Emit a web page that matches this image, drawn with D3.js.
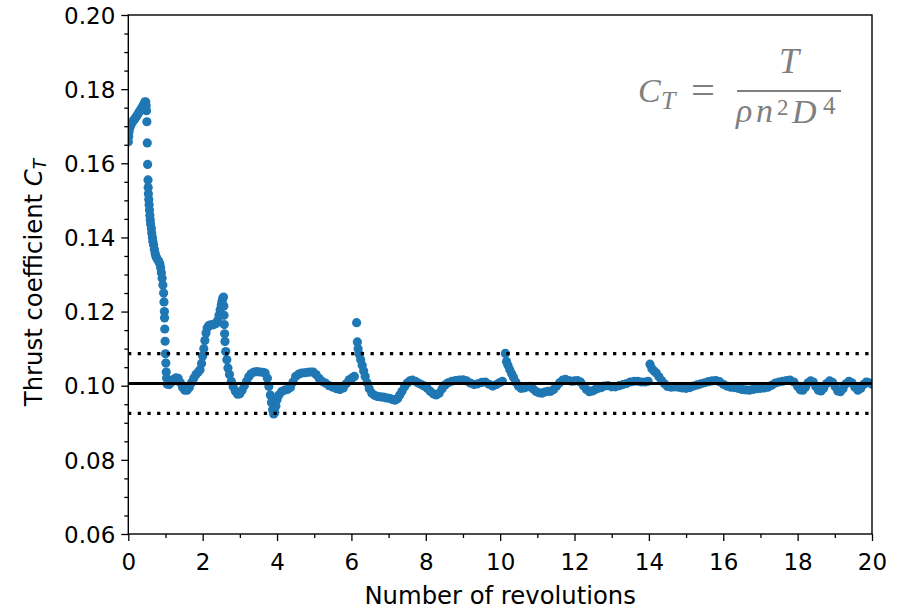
<!DOCTYPE html>
<html><head><meta charset="utf-8">
<script src="https://cdn.jsdelivr.net/npm/d3@7"></script>
<style>body{margin:0;background:#fff} svg{display:block}</style>
</head><body>
<script>
// ---- data: [revolution, C_T] ----
const ctSamples = [
[0.00,0.1658],[0.01,0.1672],[0.02,0.1685],[0.04,0.1695],[0.06,0.1702],[0.08,0.1706],[0.10,0.1710],
[0.13,0.1714],[0.16,0.1718],[0.19,0.1722],[0.22,0.1727],[0.25,0.1731],[0.28,0.1736],[0.31,0.1741],
[0.34,0.1746],[0.37,0.1751],[0.40,0.1756],[0.43,0.1762],[0.45,0.1766],[0.47,0.1765],[0.48,0.1755],
[0.49,0.1742],[0.50,0.1712],[0.51,0.1655],[0.52,0.1597],[0.53,0.1555],[0.535,0.1535],[0.54,0.1518],
[0.55,0.1502],[0.56,0.1488],[0.57,0.1474],[0.58,0.1460],[0.59,0.1448],[0.60,0.1436],[0.62,0.1424],
[0.63,0.1412],[0.65,0.1400],[0.66,0.1390],[0.68,0.1380],[0.70,0.1368],[0.72,0.1358],[0.74,0.1350],
[0.76,0.1345],[0.79,0.1340],[0.82,0.1335],[0.85,0.1328],[0.87,0.1318],[0.89,0.1305],[0.91,0.1290],
[0.93,0.1272],[0.95,0.1250],[0.96,0.1226],[0.97,0.1200],[0.975,0.1183],[0.98,0.1153],[0.99,0.1120],
[1.00,0.1086],[1.01,0.1061],[1.02,0.1037],[1.03,0.1021],[1.05,0.1004],
[1.10,0.1003],[1.16,0.1010],[1.22,0.1017],[1.28,0.1021],[1.34,0.1020],[1.40,0.1008],[1.46,0.0995],
[1.52,0.0988],[1.58,0.0988],[1.64,0.0995],[1.70,0.1008],[1.76,0.1020],[1.82,0.1030],[1.88,0.1037],
[1.93,0.1043],[1.97,0.1060],[2.00,0.1080],[2.03,0.1100],[2.06,0.1122],[2.09,0.1142],[2.12,0.1156],
[2.16,0.1162],[2.21,0.1164],[2.26,0.1164],[2.31,0.1166],[2.36,0.1168],[2.40,0.1175],[2.44,0.1190],
[2.47,0.1205],[2.50,0.1218],[2.52,0.1228],[2.54,0.1236],[2.56,0.1239],
[2.57,0.1215],[2.575,0.1190],[2.58,0.1165],[2.59,0.1140],[2.60,0.1119],[2.62,0.1092],[2.65,0.1070],
[2.68,0.1048],[2.72,0.1030],[2.77,0.1012],[2.82,0.0997],[2.88,0.0985],[2.94,0.0977],[3.00,0.0978],
[3.06,0.0988],[3.12,0.1000],[3.18,0.1012],[3.24,0.1024],[3.30,0.1032],[3.38,0.1037],[3.46,0.1038],
[3.54,0.1037],[3.62,0.1036],[3.68,0.1034],[3.74,0.1020],[3.78,0.0998],[3.82,0.0975],[3.85,0.0955],
[3.88,0.0935],[3.91,0.0924],[3.94,0.0928],[3.97,0.0945],[4.00,0.0962],[4.05,0.0975],[4.12,0.0984],
[4.20,0.0988],[4.28,0.0990],[4.36,0.0995],[4.43,0.1010],[4.50,0.1025],[4.58,0.1031],[4.66,0.1034],
[4.74,0.1035],[4.82,0.1036],[4.90,0.1037],[4.97,0.1037],[5.05,0.1030],[5.13,0.1020],[5.21,0.1012],
[5.30,0.1007],[5.40,0.1000],[5.50,0.0996],[5.60,0.0992],[5.69,0.0990],[5.78,0.0994],[5.86,0.1005],
[5.94,0.1016],[6.02,0.1021],[6.08,0.1025],
[6.14,0.1170],[6.16,0.1118],[6.18,0.1100],[6.21,0.1085],[6.25,0.1070],[6.29,0.1055],[6.33,0.1040],
[6.37,0.1025],[6.42,0.1008],[6.48,0.0992],[6.55,0.0980],[6.62,0.0974],[6.70,0.0971],[6.78,0.0970],
[6.86,0.0969],[6.94,0.0967],[7.02,0.0966],[7.10,0.0963],[7.17,0.0961],[7.24,0.0965],[7.30,0.0975],
[7.36,0.0985],[7.43,0.0997],[7.50,0.1007],[7.57,0.1013],[7.64,0.1015],[7.72,0.1012],[7.80,0.1007],
[7.88,0.1003],[7.96,0.0999],[8.04,0.0993],[8.12,0.0985],[8.20,0.0978],[8.28,0.0975],[8.36,0.0980],
[8.44,0.0992],[8.52,0.1002],[8.60,0.1008],[8.70,0.1012],[8.80,0.1014],[8.90,0.1015],[9.00,0.1016],
[9.10,0.1013],[9.20,0.1007],[9.30,0.1003],[9.40,0.1005],[9.50,0.1009],[9.60,0.1010],[9.70,0.1004],
[9.80,0.0999],[9.90,0.1003],[9.98,0.1008],[10.06,0.1012],
[10.14,0.1087],[10.17,0.1065],[10.21,0.1055],[10.26,0.1043],[10.31,0.1032],[10.36,0.1022],
[10.42,0.1010],[10.49,0.0999],[10.56,0.0993],[10.64,0.0994],[10.72,0.0997],[10.80,0.0998],
[10.88,0.0992],[10.96,0.0985],[11.04,0.0981],[11.12,0.0980],[11.20,0.0983],[11.28,0.0985],
[11.36,0.0985],[11.44,0.0990],[11.52,0.0999],[11.60,0.1008],[11.68,0.1015],[11.76,0.1017],
[11.84,0.1014],[11.92,0.1012],[12.00,0.1013],[12.08,0.1014],[12.16,0.1010],[12.24,0.1000],
[12.32,0.0990],[12.40,0.0984],[12.48,0.0986],[12.56,0.0990],[12.64,0.0993],[12.72,0.0995],
[12.80,0.0999],[12.90,0.1000],[13.00,0.0997],[13.10,0.0997],[13.20,0.1000],[13.30,0.1003],
[13.40,0.1006],[13.50,0.1010],[13.60,0.1012],[13.70,0.1012],[13.80,0.1010],[13.90,0.1010],
[13.98,0.1012],
[14.03,0.1058],[14.08,0.1046],[14.14,0.1040],[14.20,0.1034],[14.27,0.1024],[14.34,0.1014],
[14.42,0.1005],[14.50,0.0998],[14.60,0.0996],[14.70,0.0997],[14.80,0.0996],[14.90,0.0994],
[15.00,0.0993],[15.10,0.0995],[15.20,0.0999],[15.30,0.1002],[15.40,0.1005],[15.50,0.1008],
[15.60,0.1011],[15.70,0.1013],[15.80,0.1014],[15.90,0.1011],[16.00,0.1004],[16.10,0.0999],
[16.20,0.0996],[16.30,0.0995],[16.40,0.0993],[16.50,0.0990],[16.60,0.0989],[16.70,0.0988],
[16.80,0.0990],[16.90,0.0992],[17.00,0.0993],[17.10,0.0994],[17.20,0.0996],[17.30,0.1001],
[17.40,0.1007],[17.50,0.1010],[17.60,0.1012],[17.70,0.1014],[17.80,0.1015],[17.90,0.1010],
[18.00,0.0998],[18.07,0.0989],[18.14,0.0988],[18.21,0.0996],[18.28,0.1008],[18.35,0.1013],
[18.42,0.1010],[18.49,0.0998],[18.56,0.0988],[18.63,0.0986],[18.70,0.0993],[18.78,0.1006],
[18.86,0.1013],[18.94,0.1009],[19.01,0.0997],[19.08,0.0986],[19.15,0.0984],[19.22,0.0992],
[19.30,0.1005],[19.38,0.1012],[19.46,0.1008],[19.54,0.0996],[19.62,0.0988],[19.70,0.0993],
[19.78,0.1004],[19.85,0.1010],[19.92,0.1008],[20.00,0.1004]
];
const meanCt = 0.1006;          // solid reference line
const bandFraction = 0.08;      // dotted lines at ±8 %
const xTickValues = [0,2,4,6,8,10,12,14,16,18,20];
const xMinorTicks = [1,3,5,7,9,11,13,15,17,19];
const yTickValues = [0.06,0.08,0.10,0.12,0.14,0.16,0.18,0.20];
const yMinorStep = 0.005;
const xDomain = [0, 20];
const yDomain = [0.06, 0.20];
const xLabel = "Number of revolutions";
const yLabel = "Thrust coefficient ";

// ---- layout ----
const W = 902, H = 610;
const M = {left: 128.3, right: 872, top: 15, bottom: 534};
const blue = "#1f77b4";
const font = "'DejaVu Sans', sans-serif";

const svg = d3.select("body").append("svg").attr("width", W).attr("height", H);
const x = d3.scaleLinear().domain(xDomain).range([M.left, M.right]);
const y = d3.scaleLinear().domain(yDomain).range([M.bottom, M.top]);

svg.append("defs").append("clipPath").attr("id","plotclip")
  .append("rect").attr("x", M.left).attr("y", M.top)
  .attr("width", M.right - M.left).attr("height", M.bottom - M.top);

// scatter
svg.append("g").attr("clip-path","url(#plotclip)")
  .selectAll("circle").data(ctSamples).join("circle")
  .attr("cx", d => x(d[0])).attr("cy", d => y(d[1]))
  .attr("r", 4.6).attr("fill", blue);

// reference lines
const refG = svg.append("g").attr("clip-path","url(#plotclip)");
refG.append("line").attr("x1", x(0)).attr("x2", x(20))
  .attr("y1", y(meanCt)).attr("y2", y(meanCt))
  .attr("stroke","#000").attr("stroke-width",3);
[1 + bandFraction, 1 - bandFraction].forEach(f => {
  refG.append("line").attr("x1", x(0) - 0.3).attr("x2", x(20))
    .attr("y1", y(meanCt*f)).attr("y2", y(meanCt*f))
    .attr("stroke","#000").attr("stroke-width",3.3)
    .attr("stroke-dasharray","3.3,6.4");
});

// axes
const tickFont = 23;
const yMinor = d3.range(yDomain[0], yDomain[1] + 1e-9, yMinorStep)
  .filter(v => !yTickValues.some(t => Math.abs(t - v) < 1e-9));

const xAxis = svg.append("g").attr("transform", `translate(0,${M.bottom})`)
  .call(d3.axisBottom(x).tickValues(xTickValues).tickFormat(d3.format("d")).tickSize(7));
const xAxisMinor = svg.append("g").attr("transform", `translate(0,${M.bottom})`)
  .call(d3.axisBottom(x).tickValues(xMinorTicks).tickFormat("").tickSize(4));
const yAxis = svg.append("g").attr("transform", `translate(${M.left},0)`)
  .call(d3.axisLeft(y).tickValues(yTickValues).tickFormat(d3.format(".2f")).tickSize(7));
const yAxisMinor = svg.append("g").attr("transform", `translate(${M.left},0)`)
  .call(d3.axisLeft(y).tickValues(yMinor).tickFormat("").tickSize(4));

[xAxis, xAxisMinor, yAxis, yAxisMinor].forEach(g => {
  g.select(".domain").remove();
  g.selectAll(".tick line").attr("stroke","#000").attr("stroke-width",1.3);
  g.selectAll(".tick text").attr("font-family", font).attr("font-size", tickFont).attr("fill","#000");
});
xAxis.selectAll(".tick text").attr("y", 36).attr("dy", 0);
yAxis.selectAll(".tick text").attr("x", -13).attr("dy","0.36em");

// frame
svg.append("rect").attr("x", M.left).attr("y", M.top)
  .attr("width", M.right - M.left).attr("height", M.bottom - M.top)
  .attr("fill","none").attr("stroke","#000").attr("stroke-width",1.4);

// axis labels
svg.append("text").attr("x", (M.left + M.right)/2).attr("y", 604)
  .attr("text-anchor","middle").attr("font-family", font).attr("font-size", 24.3)
  .attr("fill","#000").text(xLabel);

const yl = svg.append("text")
  .attr("transform", `translate(42,${(M.top + M.bottom)/2 + 8}) rotate(-90)`)
  .attr("text-anchor","middle").attr("font-family", font).attr("font-size", 24.3).attr("fill","#000");
yl.append("tspan").text(yLabel);
yl.append("tspan").attr("font-style","italic").text("C");
yl.append("tspan").attr("font-style","italic").attr("font-size", 17).attr("dy", 4).text("T");

// formula
const fcol = "#7f7f7f";
const ff = "'Liberation Serif', 'DejaVu Serif', serif";
const fg = svg.append("g").attr("fill", fcol).attr("font-family", ff).attr("font-style","italic");
fg.append("text").attr("x", 638).attr("y", 102).attr("font-size", 34).text("C");
fg.append("text").attr("x", 661).attr("y", 109).attr("font-size", 26).text("T");
fg.append("text").attr("x", 691).attr("y", 103).attr("font-style","normal").attr("font-size", 38)
  .attr("textLength", 24).attr("lengthAdjust","spacingAndGlyphs").text("=");
fg.append("line").attr("x1", 737).attr("x2", 841).attr("y1", 91).attr("y2", 91)
  .attr("stroke", fcol).attr("stroke-width", 1.8);
fg.append("text").attr("x", 789).attr("y", 73).attr("text-anchor","middle")
  .attr("font-size", 36).text("T");
fg.append("text").attr("x", 736).attr("y", 122).attr("font-size", 34).text("ρ");
fg.append("text").attr("x", 756).attr("y", 122).attr("font-size", 34).text("n");
fg.append("text").attr("x", 777).attr("y", 115).attr("font-style","normal").attr("font-size", 23).text("2");
fg.append("text").attr("x", 792).attr("y", 123).attr("font-size", 34).text("D");
fg.append("text").attr("x", 823).attr("y", 114).attr("font-style","normal").attr("font-size", 25).text("4");
</script>
</body></html>
